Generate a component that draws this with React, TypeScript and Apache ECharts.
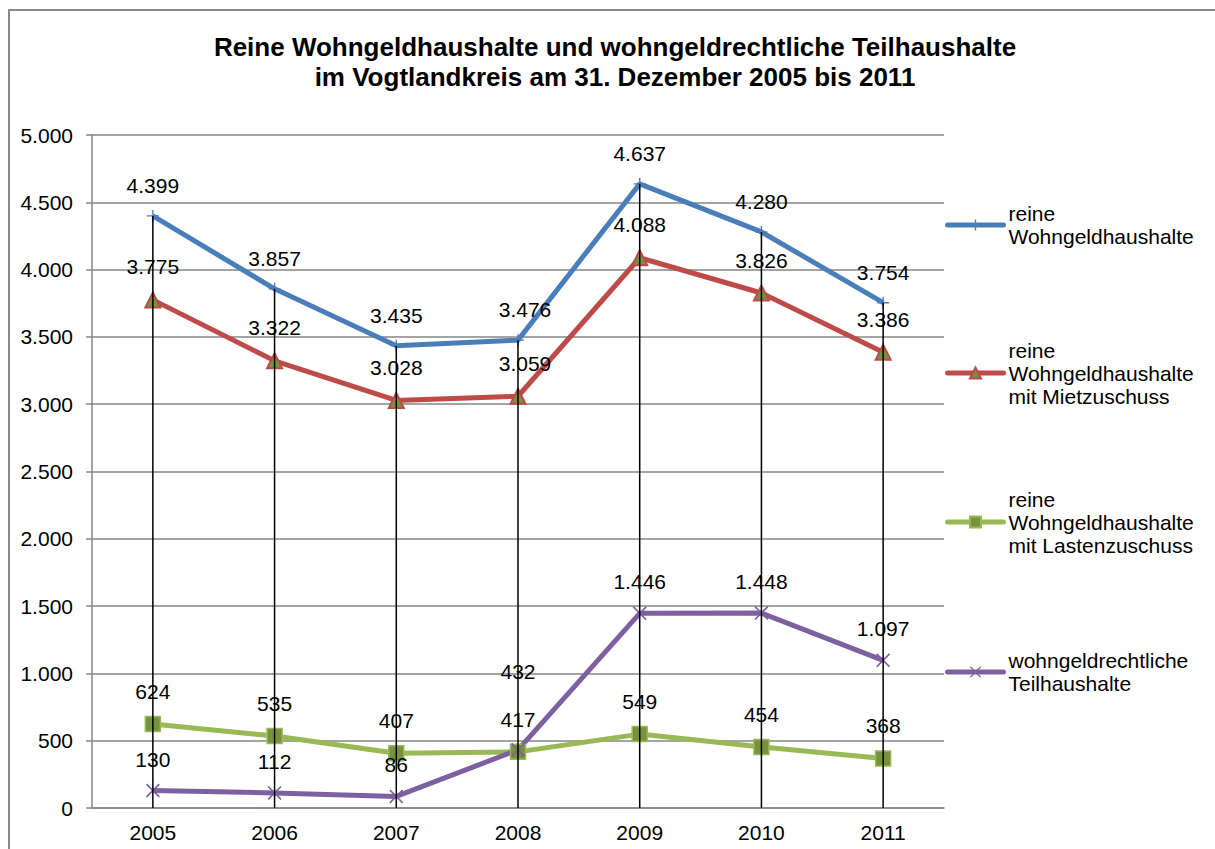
import React, { useEffect, useRef } from "react";
import * as echarts from "echarts";

const categories = ["2005", "2006", "2007", "2008", "2009", "2010", "2011"];
const seriesNames = [
  "reine\nWohngeldhaushalte",
  "reine\nWohngeldhaushalte\nmit Mietzuschuss",
  "reine\nWohngeldhaushalte\nmit Lastenzuschuss",
  "wohngeldrechtliche\nTeilhaushalte",
];
const reineWohngeld = [4399, 3857, 3435, 3476, 4637, 4280, 3754];
const mietzuschuss = [3775, 3322, 3028, 3059, 4088, 3826, 3386];
const lastenzuschuss = [624, 535, 407, 417, 549, 454, 368];
const teilhaushalte = [130, 112, 86, 432, 1446, 1448, 1097];
const yTicks = { min: 0, max: 5000, interval: 500 };

const FONT = 'Arial, "Liberation Sans", Helvetica, sans-serif';

const fmt = (v: number) =>
  String(Math.round(v)).replace(/\B(?=(\d{3})+(?!\d))/g, ".");

const PLUS = "path://M5.3,0h1.4v12h-1.4z M0,5.3h12v1.4h-12z";
const XMARK =
  "path://M0,1.2L1.2,0L7,5.8L12.8,0L14,1.2L8.2,7L14,12.8L12.8,14L7,8.2L1.2,14L0,12.8L5.8,7Z";

export default function App() {
  const ref = useRef<HTMLDivElement>(null);
  useEffect(() => {
    if (!ref.current) return;
    const chart = echarts.init(ref.current, undefined, { renderer: "svg" });

    const label = {
      show: true,
      position: "top",
      distance: 14,
      color: "#000",
      fontSize: 21,
      fontFamily: FONT,
      formatter: (p: any) => fmt(p.value),
    };

    const colors = ["#4A7EBB", "#BE4B48", "#98B954", "#7D60A0"];
    const valuesList = [reineWohngeld, mietzuschuss, lastenzuschuss, teilhaushalte];
    const symbols = [PLUS, "triangle", "rect", XMARK];
    const symbolSizes = [12, 15, 15, 14];
    const itemStyles = [
      { color: "#4A7EBB" },
      { color: "#76923C", borderColor: "#BE4B48", borderWidth: 2 },
      { color: "#76923C", borderColor: "#98B954", borderWidth: 1.5 },
      { color: "#7D60A0" },
    ];

    const labelOffsets: Record<string, [number, number]> = {
      "3-3": [0, -47],
      "0-3": [7, 0],
      "1-3": [7, 0],
    };

    const lineSeries = valuesList.map((vals, si) => ({
      name: seriesNames[si],
      type: "line",
      data: vals.map((v, i) => {
        const off = labelOffsets[`${si}-${i}`];
        return off ? { value: v, label: { offset: off } } : v;
      }),
      symbol: symbols[si],
      symbolSize: symbolSizes[si],
      showAllSymbol: true,
      lineStyle: { color: colors[si], width: 5 },
      itemStyle: itemStyles[si],
      label,
      z: 3,
    }));

    const maxVals = categories.map((_, i) =>
      Math.max(...valuesList.map((v) => v[i]))
    );

    const dropSeries = {
      type: "custom",
      data: maxVals.map((v, i) => [i, v]),
      renderItem: (params: any, api: any) => {
        const top = api.coord([api.value(0), api.value(1)]);
        const bottom = api.coord([api.value(0), 0]);
        return {
          type: "line",
          shape: { x1: top[0], y1: top[1], x2: bottom[0], y2: bottom[1] },
          style: { stroke: "#000", lineWidth: 1.5 },
        };
      },
      z: 4,
      silent: true,
    };

    const legendTops = [190.5, 315.5, 464.5, 637.5];
    const lineCounts = [2, 3, 3, 2];
    const L = 23;
    const legends = seriesNames.map((n, i) => ({
      data: [
        {
          name: n,
          textStyle: { padding: [(lineCounts[i] - 1) * L, 0, 0, 0] },
        },
      ],
      orient: "vertical",
      left: 945,
      top: legendTops[i],
      padding: 0,
      itemWidth: 56,
      itemHeight: 14,
      itemGap: 0,
      lineStyle: { width: 5, cap: "round" },
      textStyle: {
        fontSize: 21,
        fontFamily: FONT,
        color: "#000",
        lineHeight: L,
      },
    }));

    chart.setOption({
      animation: false,
      backgroundColor: "#fff",
      title: {
        text: "Reine Wohngeldhaushalte und wohngeldrechtliche Teilhaushalte\nim Vogtlandkreis am 31. Dezember 2005 bis 2011",
        left: 615,
        top: 32,
        padding: 0,
        textAlign: "center",
        textStyle: {
          fontSize: 26,
          fontWeight: "bold",
          fontFamily: FONT,
          color: "#000",
          lineHeight: 30,
        },
      },
      graphic: [
        {
          type: "rect",
          shape: { x: 9, y: 10, width: 1230, height: 860 },
          style: { fill: "none", stroke: "#898989", lineWidth: 2 },
          silent: true,
        },
      ],
      legend: legends,
      grid: { left: 92, right: 271, top: 135, bottom: 41, containLabel: false },
      xAxis: {
        type: "category",
        data: categories,
        boundaryGap: true,
        axisLine: { show: true, lineStyle: { color: "#868686", width: 1.5 } },
        axisTick: { show: false },
        axisLabel: { color: "#000", fontSize: 21, fontFamily: FONT, margin: 14 },
        splitLine: { show: false },
      },
      yAxis: {
        type: "value",
        min: yTicks.min,
        max: yTicks.max,
        interval: yTicks.interval,
        axisLine: { show: true, lineStyle: { color: "#868686", width: 1.5 } },
        axisTick: { show: true, length: 6, lineStyle: { color: "#868686", width: 1.5 } },
        axisLabel: {
          color: "#000",
          fontSize: 21,
          fontFamily: FONT,
          margin: 19,
          formatter: (v: number) => fmt(v),
        },
        splitLine: { show: true, lineStyle: { color: "#868686", width: 1.5 } },
      },
      series: [...lineSeries, dropSeries],
    });

    return () => chart.dispose();
  }, []);

  return (
    <div
      ref={ref}
      style={{ position: "absolute", left: 0, top: 0, width: 1215, height: 849 }}
    />
  );
}
